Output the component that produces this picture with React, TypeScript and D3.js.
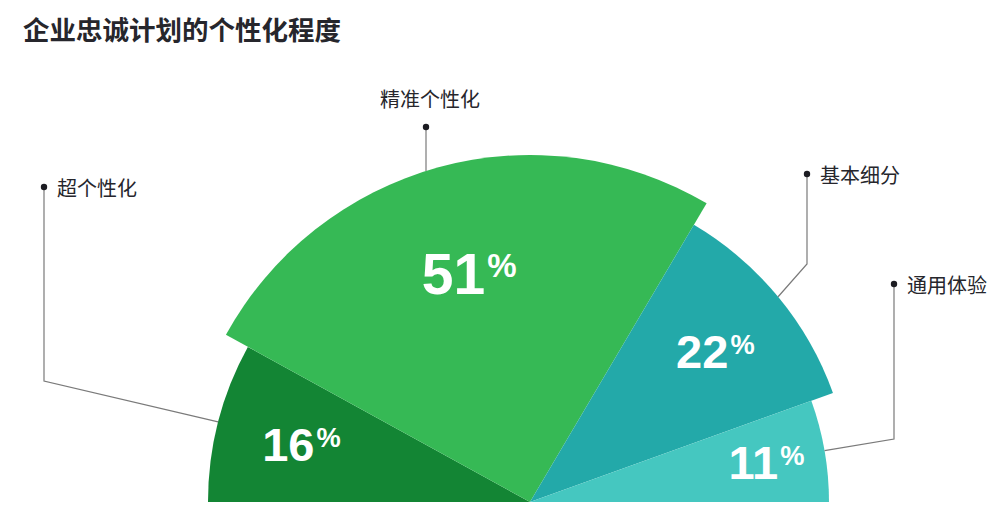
import { useEffect, useRef } from "react";
import * as d3 from "d3";

const categories = ["超个性化", "精准个性化", "基本细分", "通用体验"];
const shares = [16, 51, 22, 11];

const title = "企业忠诚计划的个性化程度";

export default function App() {
  const width = 1000;
  const height = 530;
  const cx = 530;
  const cy = 502;
  const svgRef = useRef<SVGSVGElement>(null);

  useEffect(() => {
    const svg = d3.select(svgRef.current);
    svg.selectAll("*").remove();

    const colors = ["#138534", "#36b955", "#23a9a9", "#45c7c0"];
    // each slice has its own reach
    const outerRadii = [322, 347, 322, 299];
    const labelRadius = 238;
    // where each callout sits: dot, and the corner of the leader line
    const callouts = [
      { dot: [44, 187], elbowY: 381, anchor: "side" },
      { dot: [426, 127], elbowY: null, anchor: "top" },
      { dot: [807, 174], elbowY: 264, anchor: "side" },
      { dot: [894, 284], elbowY: 439, anchor: "side" },
    ];

    const pie = d3
      .pie<number>()
      .sort(null)
      .startAngle(-Math.PI / 2)
      .endAngle(Math.PI / 2);
    const arcs = pie(shares);

    svg
      .append("text")
      .attr("x", 23)
      .attr("y", 40)
      .attr("font-family", "'Noto Sans CJK SC', sans-serif")
      .attr("font-weight", 700)
      .attr("font-size", 26.5)
      .attr("fill", "#26262c")
      .text(title);

    const g = svg.append("g").attr("transform", `translate(${cx},${cy})`);

    g.selectAll("path")
      .data(arcs)
      .join("path")
      .attr("d", (d, i) =>
        d3.arc<d3.PieArcDatum<number>>().innerRadius(0).outerRadius(outerRadii[i])(d)
      )
      .attr("fill", (_, i) => colors[i]);

    // percentage labels
    arcs.forEach((d, i) => {
      const mid = (d.startAngle + d.endAngle) / 2;
      const x = labelRadius * Math.sin(mid);
      const y = -labelRadius * Math.cos(mid);
      const fs = i === 1 ? 57 : 47;
      const t = g
        .append("text")
        .attr("x", x + 2)
        .attr("y", y + (0.716 * fs) / 2 + 1)
        .attr("text-anchor", "middle")
        .attr("font-family", "'Liberation Sans', Arial, sans-serif")
        .attr("font-weight", 700)
        .attr("fill", "#fff");
      t.append("tspan").attr("font-size", fs).text(String(d.data));
      t.append("tspan")
        .attr("font-size", fs * 0.58)
        .attr("dx", 2)
        .attr("dy", -0.3 * fs)
        .text("%");
    });

    // callouts
    arcs.forEach((d, i) => {
      const c = callouts[i];
      const r = outerRadii[i];
      const [dx, dy] = c.dot;
      let pts: [number, number][];
      if (c.elbowY === null) {
        const lx = dx - cx;
        const ly = cy - Math.sqrt(r * r - lx * lx);
        pts = [
          [dx, dy],
          [dx, ly],
        ];
      } else {
        const mid = (d.startAngle + d.endAngle) / 2;
        pts = [
          [dx, dy],
          [dx, c.elbowY],
          [cx + r * Math.sin(mid), cy - r * Math.cos(mid)],
        ];
      }
      svg
        .append("path")
        .attr("d", d3.line()(pts))
        .attr("fill", "none")
        .attr("stroke", "#7a7a7a")
        .attr("stroke-width", 1.2);
      svg
        .append("circle")
        .attr("cx", dx)
        .attr("cy", dy)
        .attr("r", 3.2)
        .attr("fill", "#1c1c22");

      const label = svg
        .append("text")
        .attr("font-family", "'Noto Sans CJK SC', sans-serif")
        .attr("font-size", 20)
        .attr("fill", "#26262c")
        .text(categories[i]);
      if (c.anchor === "top") {
        label.attr("x", dx + 4).attr("y", dy - 20).attr("text-anchor", "middle");
      } else {
        label
          .attr("x", dx + 13)
          .attr("y", dy)
          .attr("dominant-baseline", "central");
      }
    });
  }, []);

  return (
    <svg
      ref={svgRef}
      width={width}
      height={height}
      viewBox={`0 0 ${width} ${height}`}
      style={{ position: "absolute", left: 0, top: 0, background: "#fff" }}
    />
  );
}
